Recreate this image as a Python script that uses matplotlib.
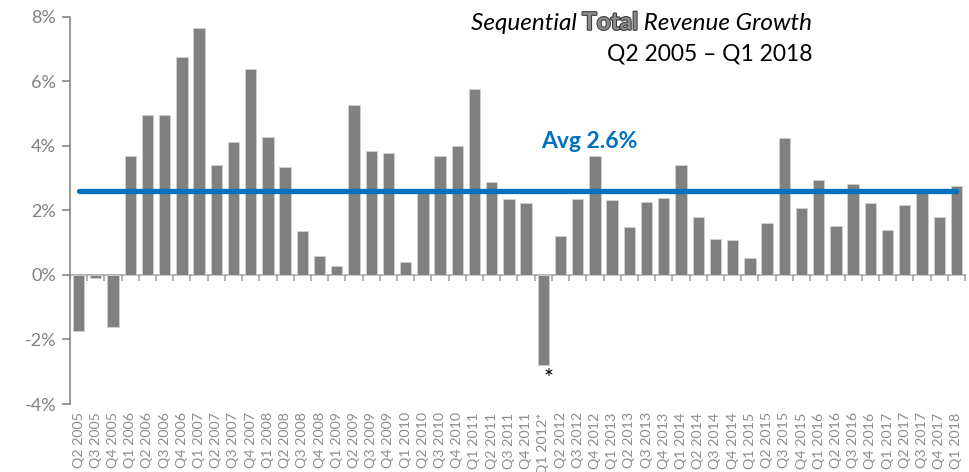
import numpy as np
import matplotlib.pyplot as plt
import matplotlib.patheffects as pe

plt.rcParams['font.family'] = ['Lato', 'DejaVu Sans']

quarters = ["Q2 2005", "Q3 2005", "Q4 2005",
            "Q1 2006", "Q2 2006", "Q3 2006", "Q4 2006",
            "Q1 2007", "Q2 2007", "Q3 2007", "Q4 2007",
            "Q1 2008", "Q2 2008", "Q3 2008", "Q4 2008",
            "Q1 2009", "Q2 2009", "Q3 2009", "Q4 2009",
            "Q1 2010", "Q2 2010", "Q3 2010", "Q4 2010",
            "Q1 2011", "Q2 2011", "Q3 2011", "Q4 2011",
            "Q1 2012*", "Q2 2012", "Q3 2012", "Q4 2012",
            "Q1 2013", "Q2 2013", "Q3 2013", "Q4 2013",
            "Q1 2014", "Q2 2014", "Q3 2014", "Q4 2014",
            "Q1 2015", "Q2 2015", "Q3 2015", "Q4 2015",
            "Q1 2016", "Q2 2016", "Q3 2016", "Q4 2016",
            "Q1 2017", "Q2 2017", "Q3 2017", "Q4 2017",
            "Q1 2018"]

# sequential revenue growth, %
growth = [-1.75, -0.08, -1.62,
          3.68, 4.95, 4.97, 6.74,
          7.65, 3.41, 4.12, 6.37,
          4.28, 3.35, 1.36, 0.60,
          0.27, 5.28, 3.85, 3.77,
          0.41, 2.55, 3.69, 3.99,
          5.75, 2.88, 2.36, 2.23,
          -2.78, 1.21, 2.36, 3.69,
          2.33, 1.48, 2.27, 2.37,
          3.41, 1.79, 1.11, 1.09,
          0.52, 1.60, 4.25, 2.08,
          2.94, 1.52, 2.82, 2.24,
          1.39, 2.18, 2.58, 1.81,
          2.76]

avg_growth = 2.6

x = np.arange(len(quarters))

fig = plt.figure(figsize=(9.69, 4.72), dpi=100)
ax = fig.add_axes([0.0722, 0.144, 0.9237, 0.8206])

ax.bar(x, growth, width=0.66, color="#808080", edgecolor="#d0d0d0", linewidth=0.6, zorder=2)
ax.plot([x[0], x[-1]], [avg_growth, avg_growth], color="#0070C0", lw=3.8,
        solid_capstyle="round", zorder=3)

ax.set_xlim(-0.5, len(quarters) - 0.5)
ax.set_ylim(-4, 8)
ax.set_yticks(np.arange(-4, 9, 2))
ax.set_yticklabels([f"{v}%" for v in range(-4, 9, 2)])
ax.tick_params(axis="y", direction="out", length=6, width=1.2, color="#868686",
               labelsize=13, labelcolor="#808080", pad=4)

ax.set_xticks(x)
ax.set_xticklabels(quarters, rotation=90, fontsize=10.3, color="#8c8c8c")
ax.tick_params(axis="x", length=0, pad=6)

for s in ["top", "right", "bottom"]:
    ax.spines[s].set_visible(False)
ax.spines["left"].set_color("#868686")
ax.spines["left"].set_linewidth(1.2)

# zero line with category boundary ticks
zero = ax.secondary_xaxis(0, transform=ax.transData)
zero.set_xticks(np.arange(-0.5, len(quarters), 1.0))
zero.set_xticklabels([])
zero.tick_params(direction="out", length=4, width=1.2, color="#a6a6a6")
zero.spines["bottom"].set_color("#a6a6a6")
zero.spines["bottom"].set_linewidth(1.2)

ax.text(29.7, 3.92, f"Avg {avg_growth}%", color="#0070C0", fontsize=16.5,
        fontweight="bold", ha="center", va="baseline")
ax.text(27.3, -3.22, "*", color="black", fontsize=17, ha="center", va="center")

# title, mixed styles, right aligned
fig.canvas.draw()
r = fig.canvas.get_renderer()
xr, y1 = 0.838, 0.937
t3 = fig.text(xr, y1, " Revenue Growth", fontsize=17.5, style="italic", ha="right", va="baseline")
w3 = t3.get_window_extent(r).width / fig.bbox.width
t2 = fig.text(xr - w3, y1, "Total", fontsize=17.5, fontweight="bold", color="#8a8a8a",
              ha="right", va="baseline",
              path_effects=[pe.withStroke(linewidth=1.5, foreground="#3a3a3a")])
w2 = t2.get_window_extent(r).width / fig.bbox.width
fig.text(xr - w3 - w2, y1, "Sequential ", fontsize=17.5, style="italic", ha="right", va="baseline")
fig.text(xr, 0.871, "Q2 2005 \u2013 Q1 2018", fontsize=16.5, ha="right", va="baseline")

fig.savefig("out.png", dpi=100)
